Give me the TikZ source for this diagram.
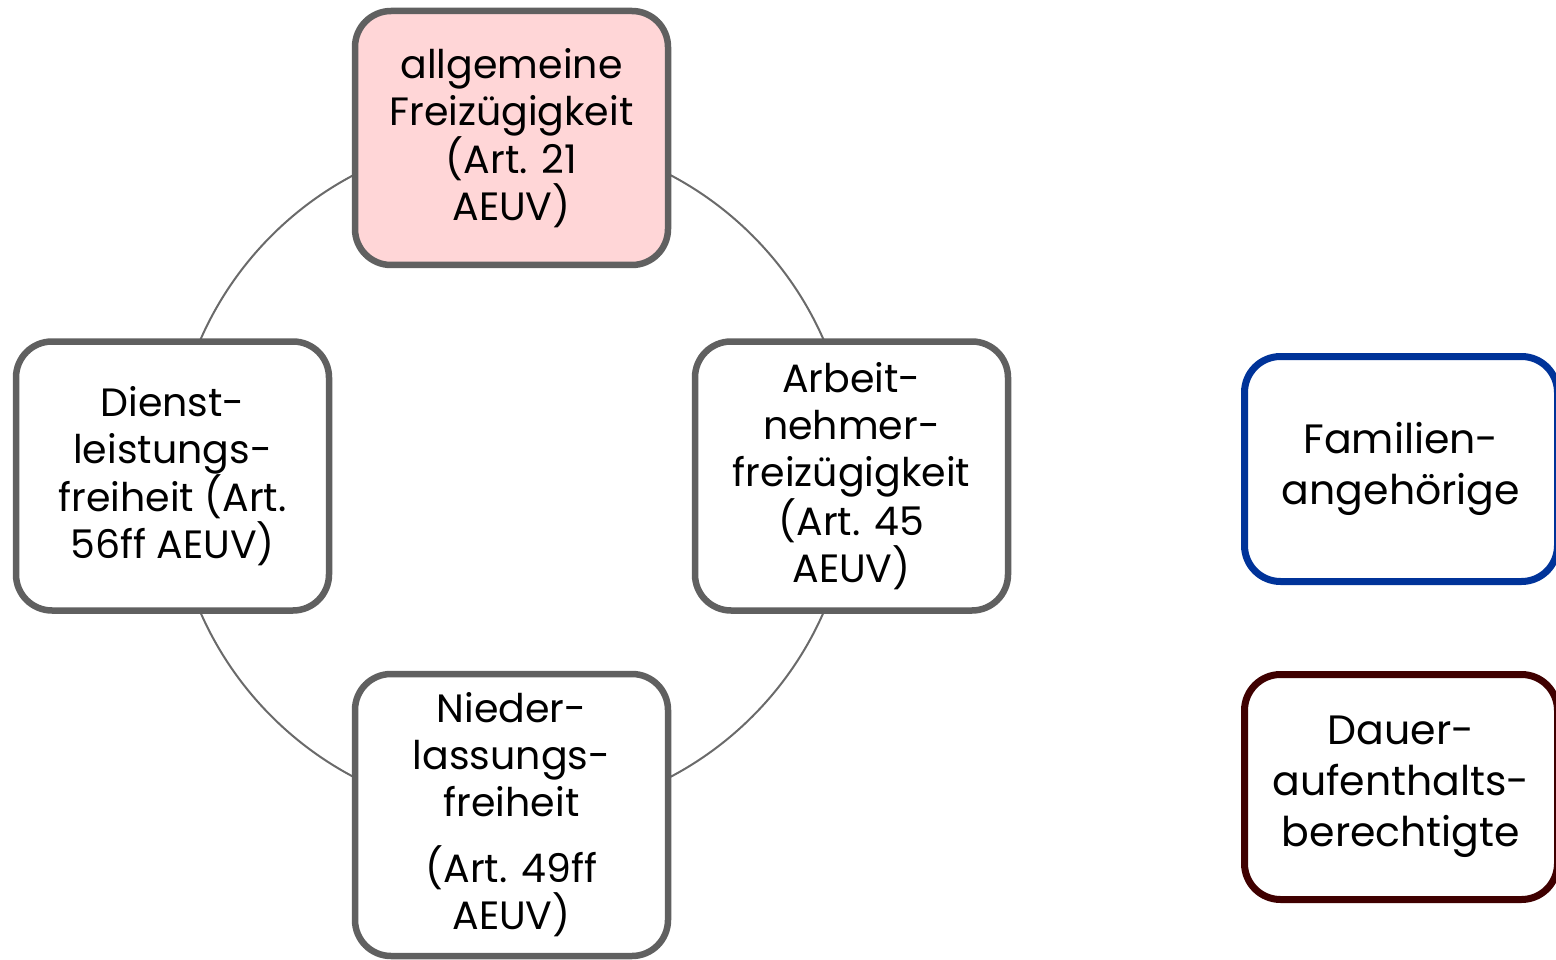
\documentclass[tikz,border=0pt]{standalone}
\usepackage{fontspec}
\setmainfont{Poppins}
\begin{document}
\begin{tikzpicture}[x=1pt,y=-1pt,
  box/.style={draw=boxgray,line width=6.5pt,rounded corners=36pt,fill=white,
    minimum width=313pt,align=center,inner sep=0pt,
    font=\fontsize{39.5}{47}\selectfont},
  sidebox/.style={draw,line width=7pt,rounded corners=36pt,fill=white,
    minimum width=313pt,minimum height=225pt,align=center,inner sep=0pt,
    font=\fontsize{41}{51}\selectfont}]
  \definecolor{boxgray}{HTML}{606060}
  \definecolor{ringgray}{HTML}{6A6A6A}
  \definecolor{topfill}{HTML}{FFD6D7}
  \definecolor{famblue}{HTML}{003399}
  \definecolor{dauerred}{HTML}{3F0000}
  \useasboundingbox (0,0) rectangle (1556,960);
  % ring connecting the four freedoms
  \draw[ringgray,line width=2pt] (512,476) circle (340pt);
  \node[box,fill=topfill,minimum height=254pt] (allg) at (511.5,138)
    {allgemeine\\Freizügigkeit\\(Art. 21\\AEUV)};
  \node[box,minimum height=269pt] (dienst) at (172.5,476)
    {Dienst-\\leistungs-\\freiheit (Art.\\56ff AEUV)};
  \node[box,minimum height=269pt] (arbeit) at (851.5,476)
    {Arbeit-\\nehmer-\\freizügigkeit\\(Art. 45\\AEUV)};
  \node[box,minimum height=282pt] (nieder) at (511.5,815)
    {Nieder-\\lassungs-\\freiheit\\[19pt](Art. 49ff\\AEUV)};
  \node[sidebox,draw=famblue] (familie) at (1401,469)
    {Familien-\\angehörige};
  \node[sidebox,draw=dauerred] (dauer) at (1401,787)
    {Dauer-\\aufenthalts-\\berechtigte};
\end{tikzpicture}
\end{document}
